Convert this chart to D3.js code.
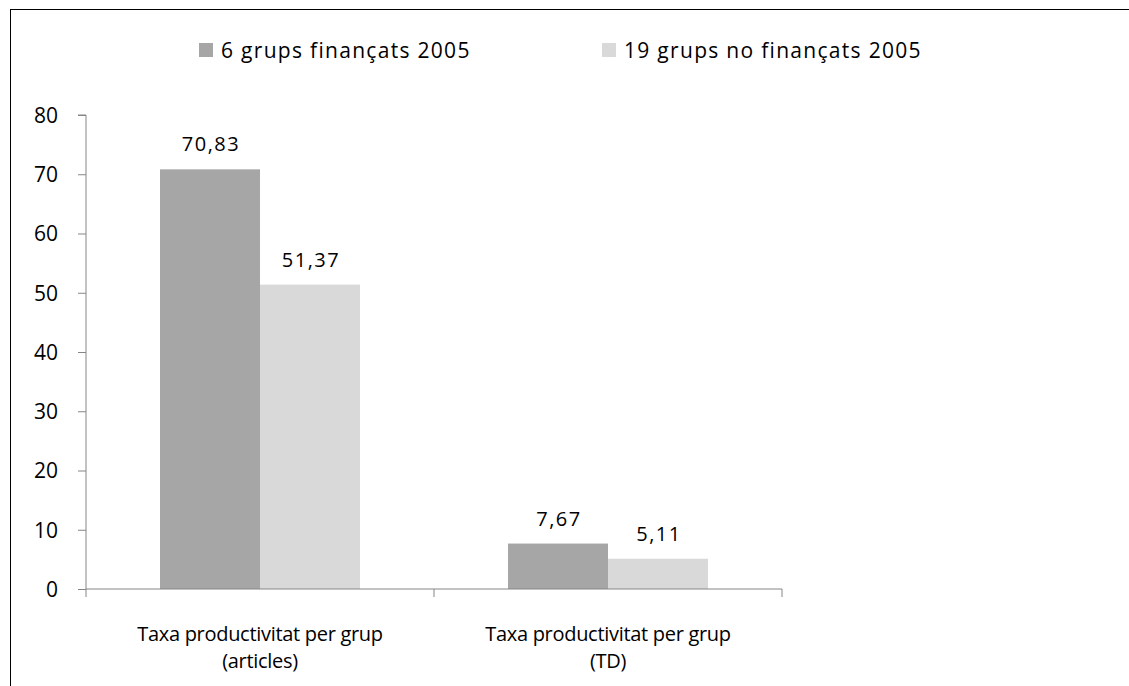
<!DOCTYPE html>
<html>
<head>
<meta charset="utf-8">
<script src="https://cdn.jsdelivr.net/npm/d3@7"></script>
<style>
  body { margin: 0; background: #fff; }
  text { font-family: "Open Sans", "Liberation Sans", sans-serif; fill: #000; }
</style>
</head>
<body>
<svg id="chart" width="1129" height="686"></svg>
<script>
const categories = [['Taxa productivitat per grup', '(articles)'], ['Taxa productivitat per grup', '(TD)']];
const seriesNames = ['6 grups finançats 2005', '19 grups no finançats 2005'];
const funded = [70.83, 7.67];
const notFunded = [51.37, 5.11];
const yTicks = [0, 10, 20, 30, 40, 50, 60, 70, 80];
const colors = ['#a6a6a6', '#d9d9d9'];

const svg = d3.select('#chart');

// frame (bottom and right run off the picture)
svg.append('rect')
  .attr('x', 10.5).attr('y', 9.5)
  .attr('width', 1130).attr('height', 700)
  .attr('fill', 'none')
  .attr('stroke', '#000')
  .attr('stroke-width', 1);

const x0 = 86, x1 = 782, yTop = 115, yBottom = 589;

const x = d3.scaleBand()
  .domain(d3.range(categories.length))
  .range([x0, x1]);

// bars take 200 of the 348px band, 74px free on each side
const xInner = d3.scaleBand()
  .domain(d3.range(seriesNames.length))
  .range([0, x.bandwidth()])
  .paddingInner(0)
  .paddingOuter(0.74);

const y = d3.scaleLinear().domain([0, 80]).range([yBottom, yTop]);

const rows = categories.map((c, i) => [funded[i], notFunded[i]]);

const groups = svg.append('g').selectAll('g')
  .data(rows)
  .join('g')
  .attr('transform', (d, i) => `translate(${x(i)},0)`);

groups.selectAll('rect')
  .data(d => d)
  .join('rect')
  .attr('x', (d, j) => xInner(j))
  .attr('y', d => y(d))
  .attr('width', xInner.bandwidth())
  .attr('height', d => y(0) - y(d))
  .attr('fill', (d, j) => colors[j]);

groups.selectAll('text.val')
  .data(d => d)
  .join('text')
  .attr('class', 'val')
  .attr('x', (d, j) => xInner(j) + xInner.bandwidth() / 2 + 1)
  .attr('y', d => y(d) - 18)
  .attr('text-anchor', 'middle')
  .style('font-size', '20px')
  .style('letter-spacing', '1.5px')
  .text(d => d.toFixed(2).replace('.', ','));

// y axis
const yAxis = svg.append('g')
  .attr('transform', `translate(${x0},0)`)
  .call(d3.axisLeft(y).tickValues(yTicks).tickSize(8).tickPadding(20).tickFormat(d => d));
yAxis.select('.domain').attr('stroke', '#868686').attr('d', `M-8,${yTop}H0V${yBottom}`);
yAxis.selectAll('.tick line').attr('stroke', '#868686');
yAxis.selectAll('.tick text').style('font-size', '21px').attr('dy', '0.35em')
  .style('font-family', '"Open Sans", "Liberation Sans", sans-serif');

// x axis
const xAxis = svg.append('g')
  .attr('transform', `translate(0,${yBottom})`);
xAxis.append('line')
  .attr('x1', x0).attr('x2', x1)
  .attr('stroke', '#868686');
xAxis.selectAll('line.tk')
  .data(d3.range(categories.length + 1))
  .join('line')
  .attr('class', 'tk')
  .attr('x1', i => i < categories.length ? x(i) : x1)
  .attr('x2', i => i < categories.length ? x(i) : x1)
  .attr('y1', 0).attr('y2', 8)
  .attr('stroke', '#868686');

const catLabels = svg.append('g').selectAll('text')
  .data(categories)
  .join('text')
  .attr('text-anchor', 'middle')
  .attr('x', (d, i) => x(i) + x.bandwidth() / 2)
  .attr('y', 641)
  .style('font-size', '20px')
  .style('letter-spacing', '-0.3px');
catLabels.selectAll('tspan')
  .data(d => d)
  .join('tspan')
  .attr('x', function() { return this.parentNode.getAttribute('x'); })
  .attr('dy', (d, k) => k === 0 ? 0 : 27)
  .text(d => d);

// legend
const legendX = [199, 602];
const legend = svg.append('g').selectAll('g')
  .data(seriesNames)
  .join('g')
  .attr('transform', (d, i) => `translate(${legendX[i]},43)`);
legend.append('rect')
  .attr('width', 14).attr('height', 14)
  .attr('fill', (d, i) => colors[i]);
legend.append('text')
  .attr('x', 22).attr('y', 15)
  .style('font-size', '21px')
  .style('letter-spacing', '1.3px')
  .text(d => d);
</script>
</body>
</html>
